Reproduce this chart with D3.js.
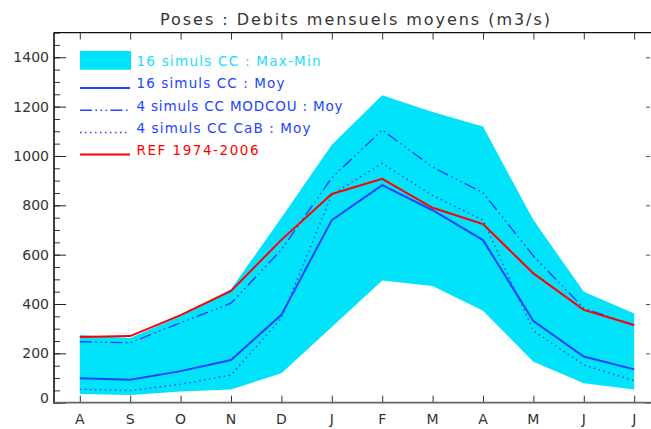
<!DOCTYPE html>
<html>
<head>
<meta charset="utf-8">
<script src="https://cdn.jsdelivr.net/npm/d3@7"></script>
<style>
  body { margin: 0; background: #fff; }
  svg { display: block; font-family: "DejaVu Sans", sans-serif; }
</style>
</head>
<body>
<div id="vis-holder"></div>
<script>
// Chart values
const months = ["A", "S", "O", "N", "D", "J", "F", "M", "A", "M", "J", "J"];
const bandMax = [274, 262, 352, 460, 750, 1045, 1246, 1178, 1119, 740, 450, 362];
const bandMin = [35, 31, 45, 54, 119, 307, 495, 473, 373, 166, 79, 54];
const moy16 = [99, 93, 128, 173, 356, 740, 882, 780, 659, 331, 187, 135];
const moyModcou = [247, 243, 324, 403, 620, 912, 1105, 955, 851, 595, 383, 313];
const moyCab = [54, 49, 75, 112, 342, 843, 970, 840, 740, 292, 153, 89];
const ref = [266, 270, 355, 453, 660, 846, 907, 790, 724, 524, 376, 315];
const yMajor = [0, 200, 400, 600, 800, 1000, 1200, 1400];
const legendLabels = ["16 simuls CC : Max-Min", "16 simuls CC : Moy",
  "4 simuls CC MODCOU : Moy", "4 simuls CC CaB : Moy", "REF 1974-2006"];

const width = 651;
const height = 429;
const margin = { top: 32.6, right: 1, bottom: 26.3, left: 54 };

const cyan = "#00e3fa";
const blue = "#2244ff";
const red = "#ff0000";

const svg = d3.select("#vis-holder")
  .append("svg")
  .attr("width", width)
  .attr("height", height);

// Scales
const x = d3.scaleLinear()
  .domain([0, months.length - 1])
  .range([79.8, 634.2]);

const y = d3.scaleLinear()
  .domain([0, 1500])
  .range([height - margin.bottom, margin.top]);

// Max-Min band
const area = d3.area()
  .x((d, i) => x(i))
  .y0((d, i) => y(bandMin[i]))
  .y1((d) => y(d));

svg.append("path")
  .datum(bandMax)
  .attr("d", area)
  .attr("fill", cyan);

const line = d3.line().x((d, i) => x(i)).y((d) => y(d));

// series lines
svg.append("path").datum(moyCab).attr("d", line)
  .attr("fill", "none").attr("stroke", blue).attr("stroke-width", 1.4)
  .attr("stroke-dasharray", "1.5,3.5");

svg.append("path").datum(moyModcou).attr("d", line)
  .attr("fill", "none").attr("stroke", blue).attr("stroke-width", 1.4)
  .attr("stroke-dasharray", "12,3.5,1.5,3.5,1.5,3.5,1.5,3.5");

svg.append("path").datum(moy16).attr("d", line)
  .attr("fill", "none").attr("stroke", blue).attr("stroke-width", 2);

svg.append("path").datum(ref).attr("d", line)
  .attr("fill", "none").attr("stroke", red).attr("stroke-width", 2);

// Axes
const x0 = margin.left, x1 = width - margin.right;
const yTop = margin.top, yBot = height - margin.bottom;

// left axis, major + minor ticks
svg.append("g")
  .attr("transform", `translate(${x0},0)`)
  .call(d3.axisRight(y).tickValues(d3.range(0, 1501, 50)).tickSize(6).tickFormat(""))
  .call((g) => g.select(".domain").remove())
  .call((g) => g.selectAll("line").attr("stroke", "#333"));

svg.append("g")
  .attr("transform", `translate(${x0},0)`)
  .call(d3.axisRight(y).tickValues(yMajor).tickSize(12).tickFormat(""))
  .call((g) => g.select(".domain").remove())
  .call((g) => g.selectAll("line").attr("stroke", "#222"));

// y labels
svg.append("g")
  .selectAll("text")
  .data(yMajor)
  .join("text")
  .attr("x", 49)
  .attr("y", (d) => d === 0 ? y(d) - 5 : y(d))
  .attr("dy", "0.36em")
  .attr("text-anchor", "end")
  .attr("font-size", 14)
  .attr("fill", "#333")
  .text((d) => d);

// right ticks
svg.append("g")
  .attr("transform", `translate(${x1},0)`)
  .call(d3.axisLeft(y).tickValues(yMajor).tickSize(4).tickFormat(""))
  .call((g) => g.select(".domain").remove())
  .call((g) => g.selectAll("line").attr("stroke", "#555"));

// month ticks bottom and top
const idx = d3.range(months.length);
svg.append("g")
  .attr("transform", `translate(0,${yBot})`)
  .call(d3.axisTop(x).tickValues(idx).tickSize(7).tickFormat(""))
  .call((g) => g.select(".domain").remove())
  .call((g) => g.selectAll("line").attr("stroke", "#333"));

svg.append("g")
  .attr("transform", `translate(0,${yTop})`)
  .call(d3.axisBottom(x).tickValues(idx).tickSize(7).tickFormat(""))
  .call((g) => g.select(".domain").remove())
  .call((g) => g.selectAll("line").attr("stroke", "#333"));

svg.append("g")
  .selectAll("text")
  .data(months)
  .join("text")
  .attr("x", (d, i) => x(i))
  .attr("y", 424)
  .attr("text-anchor", "middle")
  .attr("font-size", 14)
  .attr("fill", "#333")
  .text((d) => d);

// frame lines
svg.append("line").attr("x1", x0).attr("x2", x0).attr("y1", yTop).attr("y2", yBot + 1)
  .attr("stroke", "#111").attr("stroke-width", 1.6);
svg.append("line").attr("x1", x0).attr("x2", x1 + 1).attr("y1", yTop).attr("y2", yTop)
  .attr("stroke", "#111").attr("stroke-width", 1.2);
svg.append("line").attr("x1", x0).attr("x2", x1 + 1).attr("y1", yBot).attr("y2", yBot)
  .attr("stroke", "#666").attr("stroke-width", 1.8);

// Title
svg.append("text")
  .attr("x", 160)
  .attr("y", 25)
  .attr("font-size", 16)
  .attr("fill", "#333")
  .attr("textLength", 390)
  .attr("lengthAdjust", "spacing")
  .text("Poses : Debits mensuels moyens (m3/s)");

// Legend
const legendY = [61.5, 83.5, 105.7, 128, 150];
const legendW = [184, 148, 206, 174, 122];
const legendColor = [cyan, blue, blue, blue, red];
const legend = svg.append("g");

legend.append("rect")
  .attr("x", 80).attr("y", 51).attr("width", 51).attr("height", 18.7)
  .attr("fill", cyan);

const sampleDash = [null, null, "12,3.5,1.5,3.5,1.5,3.5,1.5,3.5", "1.5,3.5", null];
const sampleWidth = [0, 2, 1.4, 1.4, 2];
[1, 2, 3, 4].forEach((i) => {
  legend.append("line")
    .attr("x1", 80).attr("x2", 130)
    .attr("y1", legendY[i] + 4.5).attr("y2", legendY[i] + 4.5)
    .attr("stroke", legendColor[i])
    .attr("stroke-width", sampleWidth[i])
    .attr("stroke-dasharray", sampleDash[i]);
});

legend.selectAll("text")
  .data(legendLabels)
  .join("text")
  .attr("x", 136.5)
  .attr("y", (d, i) => legendY[i])
  .attr("dy", "0.36em")
  .attr("font-size", 13.5)
  .attr("fill", (d, i) => i === 0 ? "#22dcff" : legendColor[i])
  .attr("textLength", (d, i) => legendW[i])
  .attr("lengthAdjust", "spacing")
  .text((d) => d);
</script>
</body>
</html>
